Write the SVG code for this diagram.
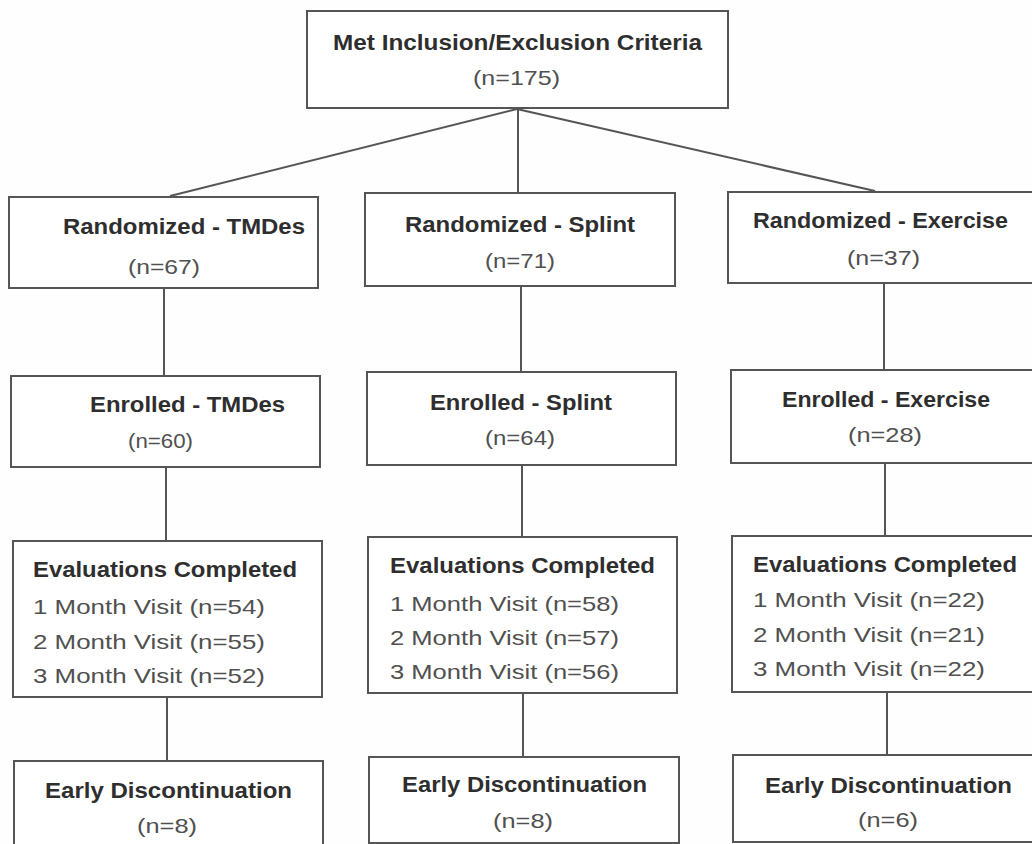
<svg xmlns="http://www.w3.org/2000/svg" width="1032" height="844" viewBox="0 0 1032 844">
<style>
.box{fill:#ffffff;stroke:#555555;stroke-width:2}
.ln{stroke:#555555;stroke-width:2;fill:none}
.b{font-family:"Liberation Sans",Arial,sans-serif;font-weight:bold;font-size:22px;fill:#2e2e2e}
.r{font-family:"Liberation Sans",Arial,sans-serif;font-size:21px;fill:#505050}
.m{text-anchor:middle}
</style>
<rect x="0" y="0" width="1032" height="844" fill="#fefefe"/>
<g id="connectors">
<line class="ln" x1="517" y1="109" x2="170" y2="196"/>
<line class="ln" x1="517" y1="109" x2="875" y2="191"/>
<line class="ln" x1="518" y1="109" x2="518" y2="193"/>
<line class="ln" x1="164" y1="288" x2="164" y2="376"/>
<line class="ln" x1="166" y1="467" x2="166" y2="541"/>
<line class="ln" x1="167" y1="697" x2="167" y2="761"/>
<line class="ln" x1="521" y1="286" x2="521" y2="372"/>
<line class="ln" x1="522" y1="465" x2="522" y2="537"/>
<line class="ln" x1="523" y1="693" x2="523" y2="757"/>
<line class="ln" x1="884" y1="283" x2="884" y2="370"/>
<line class="ln" x1="885" y1="463" x2="885" y2="536"/>
<line class="ln" x1="887" y1="692" x2="887" y2="755"/>
</g>
<g id="met">
<rect class="box" x="307" y="11" width="421" height="97"/>
<text class="b m" x="517.5" y="50" textLength="369" lengthAdjust="spacingAndGlyphs">Met Inclusion/Exclusion Criteria</text>
<text class="r m" x="516.5" y="85" textLength="87" lengthAdjust="spacingAndGlyphs">(n=175)</text>
</g>
<g id="rand-tmdes">
<rect class="box" x="9" y="197" width="309" height="91"/>
<text class="b m" x="184" y="234" textLength="242" lengthAdjust="spacingAndGlyphs">Randomized - TMDes</text>
<text class="r m" x="164" y="274" textLength="72" lengthAdjust="spacingAndGlyphs">(n=67)</text>
</g>
<g id="rand-splint">
<rect class="box" x="365" y="193" width="310" height="93"/>
<text class="b m" x="520" y="232" textLength="230" lengthAdjust="spacingAndGlyphs">Randomized - Splint</text>
<text class="r m" x="520" y="268" textLength="70" lengthAdjust="spacingAndGlyphs">(n=71)</text>
</g>
<g id="rand-exercise">
<rect class="box" x="728" y="192" width="312" height="91"/>
<text class="b m" x="880.5" y="228" textLength="255" lengthAdjust="spacingAndGlyphs">Randomized - Exercise</text>
<text class="r m" x="883.5" y="265" textLength="73" lengthAdjust="spacingAndGlyphs">(n=37)</text>
</g>
<g id="enr-tmdes">
<rect class="box" x="11" y="376" width="309" height="91"/>
<text class="b m" x="187.5" y="412" textLength="195" lengthAdjust="spacingAndGlyphs">Enrolled - TMDes</text>
<text class="r m" x="160.5" y="448" textLength="65" lengthAdjust="spacingAndGlyphs">(n=60)</text>
</g>
<g id="enr-splint">
<rect class="box" x="367" y="372" width="309" height="93"/>
<text class="b m" x="521" y="410" textLength="182" lengthAdjust="spacingAndGlyphs">Enrolled - Splint</text>
<text class="r m" x="520" y="445" textLength="70" lengthAdjust="spacingAndGlyphs">(n=64)</text>
</g>
<g id="enr-exercise">
<rect class="box" x="731" y="370" width="310" height="93"/>
<text class="b m" x="886" y="407" textLength="208" lengthAdjust="spacingAndGlyphs">Enrolled - Exercise</text>
<text class="r m" x="885" y="442" textLength="74" lengthAdjust="spacingAndGlyphs">(n=28)</text>
</g>
<g id="eval-tmdes">
<rect class="box" x="13" y="541" width="309" height="156"/>
<text class="b" x="33" y="577" textLength="264" lengthAdjust="spacingAndGlyphs">Evaluations Completed</text>
<text class="r" x="33" y="614" textLength="232" lengthAdjust="spacingAndGlyphs">1 Month Visit (n=54)</text>
<text class="r" x="33" y="649" textLength="232" lengthAdjust="spacingAndGlyphs">2 Month Visit (n=55)</text>
<text class="r" x="33" y="683" textLength="232" lengthAdjust="spacingAndGlyphs">3 Month Visit (n=52)</text>
</g>
<g id="eval-splint">
<rect class="box" x="368" y="537" width="309" height="156"/>
<text class="b" x="390" y="573" textLength="265" lengthAdjust="spacingAndGlyphs">Evaluations Completed</text>
<text class="r" x="390" y="611" textLength="229" lengthAdjust="spacingAndGlyphs">1 Month Visit (n=58)</text>
<text class="r" x="390" y="645" textLength="229" lengthAdjust="spacingAndGlyphs">2 Month Visit (n=57)</text>
<text class="r" x="390" y="679" textLength="229" lengthAdjust="spacingAndGlyphs">3 Month Visit (n=56)</text>
</g>
<g id="eval-exercise">
<rect class="box" x="732" y="536" width="310" height="156"/>
<text class="b" x="753" y="572" textLength="264" lengthAdjust="spacingAndGlyphs">Evaluations Completed</text>
<text class="r" x="753" y="607" textLength="232" lengthAdjust="spacingAndGlyphs">1 Month Visit (n=22)</text>
<text class="r" x="753" y="642" textLength="232" lengthAdjust="spacingAndGlyphs">2 Month Visit (n=21)</text>
<text class="r" x="753" y="676" textLength="232" lengthAdjust="spacingAndGlyphs">3 Month Visit (n=22)</text>
</g>
<g id="early-tmdes">
<rect class="box" x="14" y="761" width="309" height="95"/>
<text class="b m" x="168.5" y="798" textLength="247" lengthAdjust="spacingAndGlyphs">Early Discontinuation</text>
<text class="r m" x="167" y="833" textLength="60" lengthAdjust="spacingAndGlyphs">(n=8)</text>
</g>
<g id="early-splint">
<rect class="box" x="369" y="757" width="310" height="86"/>
<text class="b m" x="524.5" y="792" textLength="245" lengthAdjust="spacingAndGlyphs">Early Discontinuation</text>
<text class="r m" x="523" y="828" textLength="60" lengthAdjust="spacingAndGlyphs">(n=8)</text>
</g>
<g id="early-exercise">
<rect class="box" x="733" y="755" width="310" height="87"/>
<text class="b m" x="888.5" y="793" textLength="247" lengthAdjust="spacingAndGlyphs">Early Discontinuation</text>
<text class="r m" x="888" y="827" textLength="60" lengthAdjust="spacingAndGlyphs">(n=6)</text>
</g>
</svg>
